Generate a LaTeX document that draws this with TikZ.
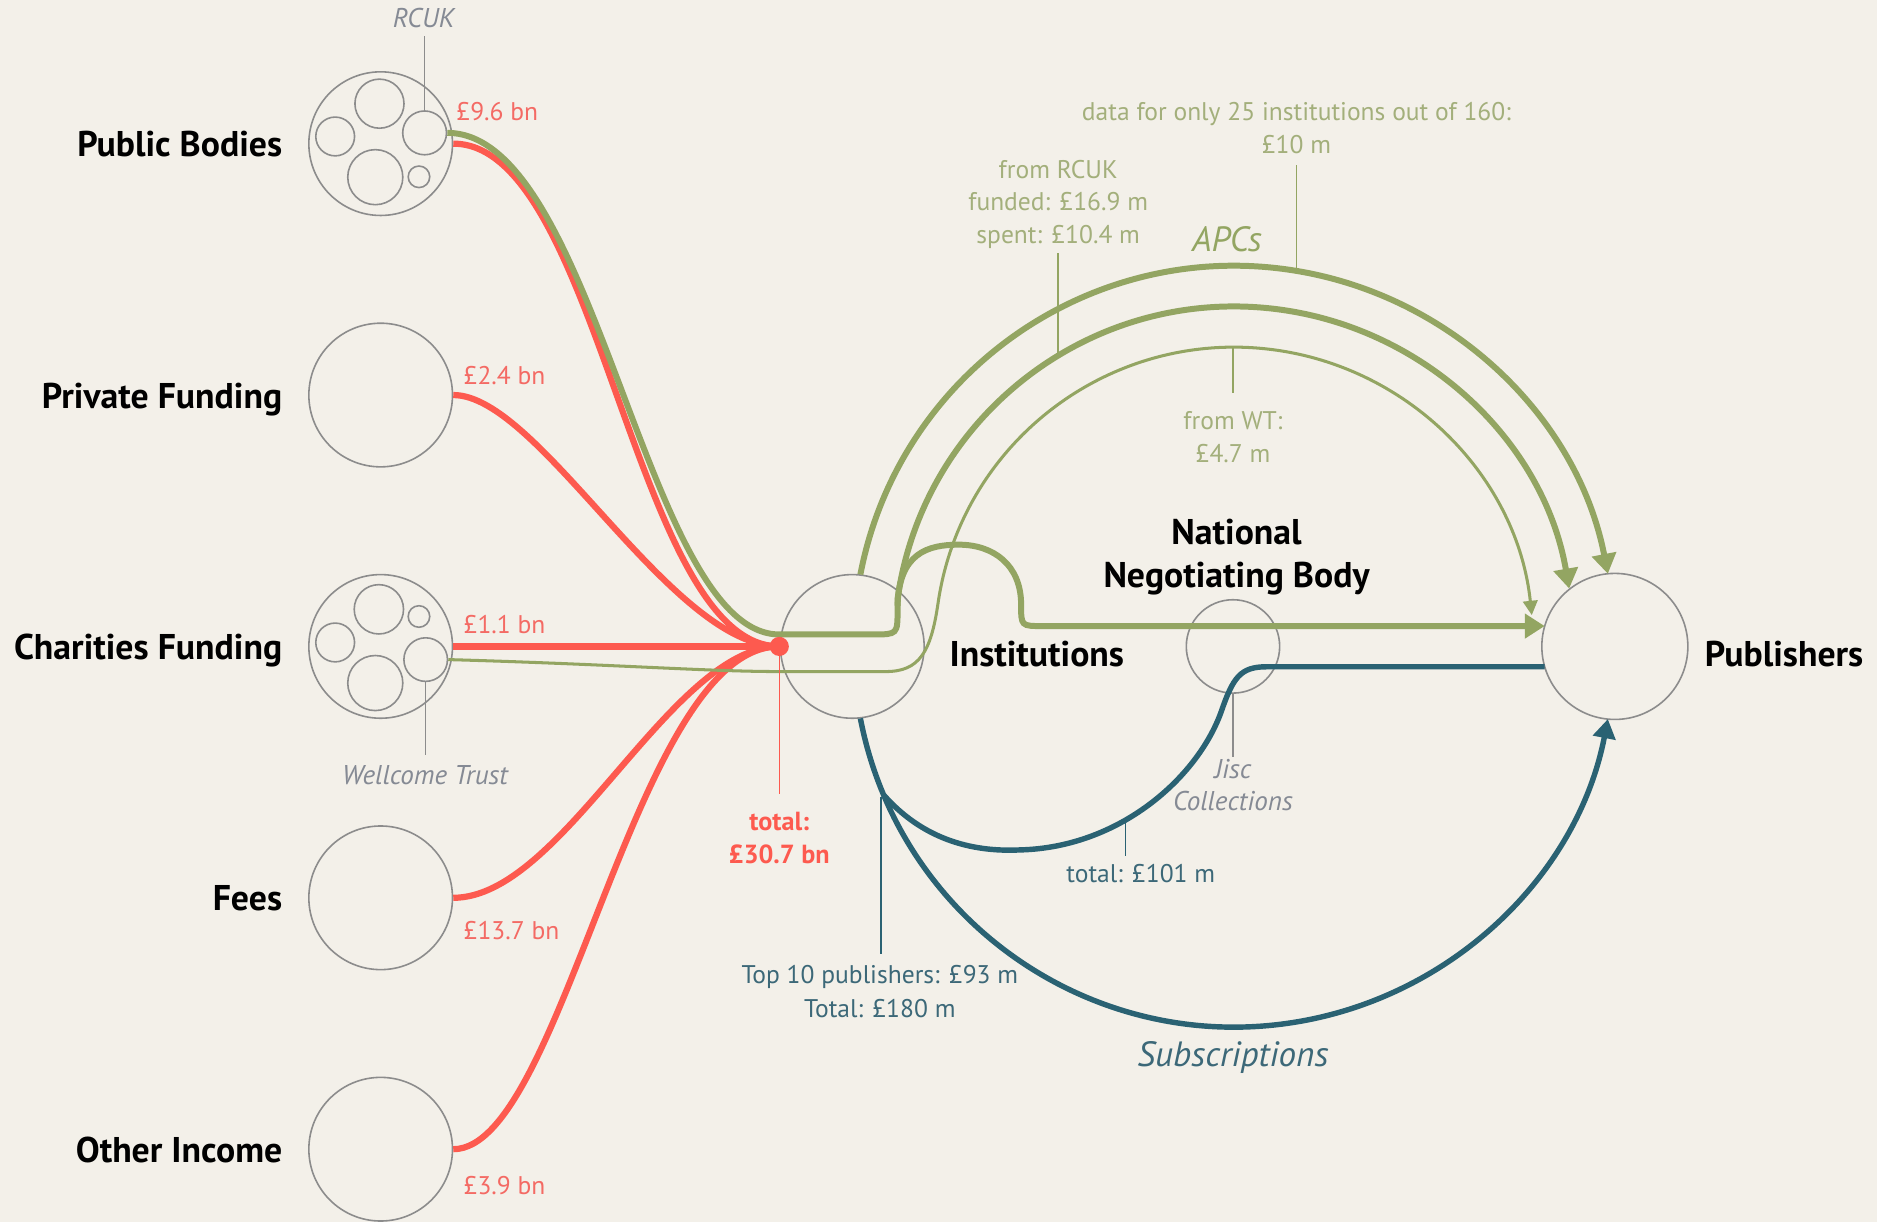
\documentclass[tikz,border=0pt]{standalone}
\usepackage{fontspec}
\setmainfont{PT Sans}
\usetikzlibrary{arrows.meta}
\definecolor{bg}{HTML}{F3F0E9}
\definecolor{fred}{HTML}{FD5A4F}
\definecolor{tred}{HTML}{F46A64}
\definecolor{fgreen}{HTML}{93A562}
\definecolor{tgreen}{HTML}{A3AF7B}
\definecolor{fteal}{HTML}{2A6273}
\definecolor{tteal}{HTML}{3C6878}
\definecolor{cgray}{HTML}{8C8C8C}
\definecolor{tgray}{HTML}{858A94}
\begin{document}
\begin{tikzpicture}[x=0.75pt,y=-0.75pt,
  circ/.style={circle,draw=cgray,line width=1pt,inner sep=0pt},
  redflow/.style={draw=fred,line width=3.9pt},
  greenflow/.style={draw=fgreen,line width=3.75pt},
  thingreen/.style={draw=fgreen,line width=1.9pt},
  tealflow/.style={draw=fteal,line width=3.4pt},
  bigtip/.style={-{Triangle[length=12.5pt,width=15pt]}},
  smalltip/.style={-{Triangle[length=9pt,width=9pt]}},
  ptr/.style={line width=0.9pt},
  blbl/.style={font=\fontsize{22.4}{26}\selectfont\bfseries,text=black,inner sep=0pt},
  rlbl/.style={font=\fontsize{16}{19}\selectfont,inner sep=0pt},
  tlbl/.style={font=\fontsize{16.4}{19}\selectfont\bfseries,text=fred,inner sep=0pt},
  ilbl/.style={font=\fontsize{17}{20}\selectfont\itshape,text=tgray,inner sep=0pt},
  biglbl/.style={font=\fontsize{22}{26}\selectfont\itshape,inner sep=0pt}
]
\useasboundingbox (0,0) rectangle (1568,1020.8);
\fill[bg] (0,0) rectangle (1568,1020.8);

% coordinates
\coordinate (hub) at (651,540);
\coordinate (hubg) at (651,530);
\coordinate (hubw) at (651,561);
\coordinate (arcc) at (1031,540);
\coordinate (pubgl) at (1290.4,523);
\coordinate (pubtl) at (1290.4,557);

% source circles
\node[circ,minimum size=90pt] (pub) at (318,120) {};
\node[circ,minimum size=30.75pt] (pubA) at (317,86.6) {};
\node[circ,minimum size=24.3pt] (pubB) at (280,114) {};
\node[circ,minimum size=27.45pt] (rcuk) at (354.7,111) {};
\node[circ,minimum size=34.5pt] (pubC) at (313.5,148) {};
\node[circ,minimum size=13.5pt] (pubD) at (350,147.7) {};
\node[circ,minimum size=90pt] (priv) at (318,330) {};
\node[circ,minimum size=90pt] (char) at (318,540) {};
\node[circ,minimum size=30.9pt] (charA) at (316.5,509) {};
\node[circ,minimum size=13.5pt] (charB) at (350,515) {};
\node[circ,minimum size=24.3pt] (charC) at (280,536.7) {};
\node[circ,minimum size=27.3pt] (wt) at (355.6,551) {};
\node[circ,minimum size=34.5pt] (charD) at (313.5,570.6) {};
\node[circ,minimum size=90pt] (fees) at (318,750) {};
\node[circ,minimum size=90pt] (other) at (318,960) {};
\node[circ,minimum size=90pt] (inst) at (712,540) {};
\node[circ,minimum size=58.5pt] (nnb) at (1030,540) {};
\node[circ,minimum size=91.5pt] (publ) at (1349,540) {};

% red flows
\draw[redflow] (pub.east) .. controls +(122,0) and +(-121,0) .. (hub);
\draw[redflow] (priv.east) .. controls +(72,0) and +(-91,0) .. (hub);
\draw[redflow,line width=4.8pt] (char.east) -- (hub);
\draw[redflow] (fees.east) .. controls +(92,0) and +(-91,0) .. (hub);
\draw[redflow] (other.east) .. controls +(92,0) and +(-121,0) .. (hub);

% green flows
\draw[greenflow,bigtip] (rcuk.east) .. controls +(125,0) and +(-112,0) .. (hubg)
  -- (729,530) .. controls (749.8,530) .. (749.8,509) -- (749.83,500)
  arc[start angle=-171.9, end angle=-9.8, radius=284];
\draw[greenflow,bigtip] (749.8,506) .. controls (751,462) and (775,455) .. (801,455)
  .. controls (830,455) and (853,472) .. (853,505) .. controls (853,523) .. (871,523) -- (pubgl);
\draw[thingreen,smalltip] (wt.east) .. controls +(140,4) and +(-60,0) .. (hubw) -- (740,561)
  .. controls (768,561) and (777.7,544.6) .. (783.6,504)
  arc[start angle=-171.72, end angle=-6, radius=250];
\draw[greenflow,bigtip] (arcc) ++(-169.1:318) arc[start angle=-169.1, end angle=-11, radius=318];

% teal flows
\draw[tealflow,-{Triangle[length=12pt,width=14pt]}] (arcc) ++(169.1:318) arc[start angle=169.1, end angle=11, radius=318];
\draw[tealflow] (738.3,664.2) .. controls (770,700) and (810,712) .. (852,710)
  .. controls (935,708) and (1000,650) .. (1020,595)
  .. controls (1030,566) and (1036,557) .. (1058,557) -- (pubtl);

% red dot
\node[circle,fill=fred,inner sep=0pt,minimum size=12pt] (dot) at (hub) {};

% pointer lines
\draw[ptr,cgray] (rcuk.north) -- ++(0,-62);
\draw[ptr,cgray] (wt.south) -- ++(0,61);
\draw[ptr,fred] (dot.center) -- ++(0,123);
\draw[ptr,fgreen] (1083,226.3) -- (1083,138);
\draw[ptr,fgreen] (884,297) -- (884,211);
\draw[ptr,fgreen] (1030,290) -- (1030,328);
\draw[ptr,cgray] (nnb.south) -- ++(0,53);
\draw[ptr,fteal] (940,685) -- (940,715);
\draw[ptr,fteal] (736,666) -- (736,797);

% bold labels
\node[blbl,anchor=base east] (lpub) at (236,131) {Public Bodies};
\node[blbl,anchor=base east] (lpriv) at (236,341) {Private Funding};
\node[blbl,anchor=base east] (lchar) at (236,551) {Charities Funding};
\node[blbl,anchor=base east] (lfees) at (236,761) {Fees};
\node[blbl,anchor=base east] (lother) at (236,971) {Other Income};
\node[blbl,anchor=base west] (linst) at (793,557) {Institutions};
\node[blbl,anchor=base west] (lpubl) at (1424,557) {Publishers};
\node[blbl,anchor=base] (lnnb1) at (1033,455) {National};
\node[blbl,anchor=base] (lnnb2) at (1033,491) {Negotiating Body};

% amounts
\node[rlbl,text=tred,anchor=base west] (a1) at (381,101) {£9.6 bn};
\node[rlbl,text=tred,anchor=base west] (a2) at (387,321) {£2.4 bn};
\node[rlbl,text=tred,anchor=base west] (a3) at (387,529) {£1.1 bn};
\node[rlbl,text=tred,anchor=base west] (a4) at (387,785) {£13.7 bn};
\node[rlbl,text=tred,anchor=base west] (a5) at (387,998) {£3.9 bn};
\node[tlbl,anchor=base] (tot1) at (651,694) {total:};
\node[tlbl,anchor=base] (tot2) at (651,721) {£30.7 bn};

% gray italic
\node[ilbl,anchor=base] (lrcuk) at (354,23) {RCUK};
\node[ilbl,anchor=base] (lwt) at (355,655) {Wellcome Trust};
\node[ilbl,anchor=base] (ljisc1) at (1030,650) {Jisc};
\node[ilbl,anchor=base] (ljisc2) at (1030,677) {Collections};

% green labels
\node[rlbl,text=tgreen,anchor=base] (g1) at (1083,101) {data for only 25 institutions out of 160:};
\node[rlbl,text=tgreen,anchor=base] (g2) at (1083,128) {£10 m};
\node[rlbl,text=tgreen,anchor=base] (g3) at (884,149) {from RCUK};
\node[rlbl,text=tgreen,anchor=base] (g4) at (884,176) {funded: £16.9 m};
\node[rlbl,text=tgreen,anchor=base] (g5) at (884,203) {spent: £10.4 m};
\node[biglbl,text=fgreen,anchor=base] (apc) at (1025,210) {APCs};
\node[rlbl,text=tgreen,anchor=base] (g6) at (1030,359) {from WT:};
\node[rlbl,text=tgreen,anchor=base] (g7) at (1030,386) {£4.7 m};

% teal labels
\node[rlbl,text=tteal,anchor=base] (t1) at (953,737) {total: £101 m};
\node[rlbl,text=tteal,anchor=base] (t2) at (735,822) {Top 10 publishers: £93 m};
\node[rlbl,text=tteal,anchor=base] (t3) at (735,850) {Total: £180 m};
\node[biglbl,text=tteal,anchor=base] (subs) at (1030,891) {Subscriptions};
\end{tikzpicture}
\end{document}
